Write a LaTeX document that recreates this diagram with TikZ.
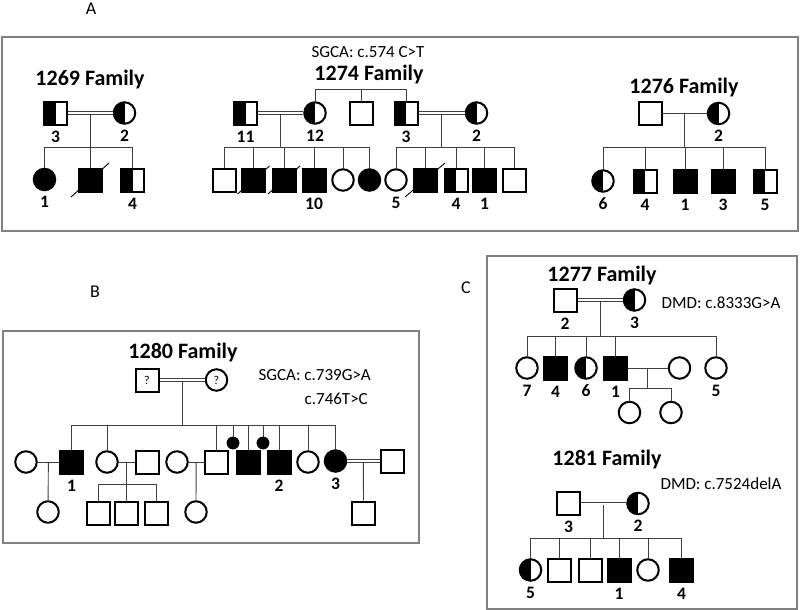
\documentclass[tikz,border=0pt]{standalone}
\usepackage{fontspec}
\setmainfont{Carlito}
\begin{document}
\begin{tikzpicture}[x=1pt, y=-1pt, label distance=5pt]
            \tikzstyle{male}=[draw, rectangle, line width=2pt, minimum size=23pt, inner sep=0pt]
            \tikzstyle{female}=[draw, circle, line width=2pt, minimum size=21.5pt, inner sep=0pt]
            \tikzstyle{affected}=[fill=black]
            \tikzstyle{carrier}=[path picture={\fill[black] (path picture bounding box.south west) rectangle (path picture bounding box.north);}]
            \tikzstyle{every label}=[font=\fontsize{17.5}{17.5}\selectfont\bfseries, inner sep=0pt]
            \tikzstyle{family}=[font=\fontsize{22}{22}\selectfont\bfseries, inner sep=0pt, anchor=base]
            \tikzstyle{mutation}=[font=\fontsize{17}{17}\selectfont, inner sep=0pt, anchor=base]
            \tikzstyle{letter}=[font=\fontsize{18}{18}\selectfont, inner sep=0pt, anchor=base]
            \tikzstyle{link}=[draw=black!75, line width=0.9pt]
            \tikzstyle{marriage}=[link, double, double distance=2pt]
            \tikzstyle{panel}=[draw=black!50, line width=1.3pt]
            \tikzstyle{dead}=[black, line width=0.9pt]
            \useasboundingbox (0,0) rectangle (800,610);
            % panels
            \draw[panel] (2,37) rectangle (798,231);
            \draw[panel] (3,331) rectangle (419,543);
            \draw[panel] (487,256) rectangle (797,609);
            \node[letter] (lA) at (91,15) {A};
            \node[letter] (lB) at (95,297) {B};
            \node[letter] (lC) at (466,293) {C};
            % 1269
            \node[family] (t69) at (90,85) {1269 Family};
            \node[male, carrier, label=below:3] (f69) at (55.5,113) {};
            \node[female, carrier, label=below:2] (m69) at (124.5,113) {};
            \node[female, affected, label=below:1] (a69) at (44.5,179.5) {};
            \node[male, affected] (b69) at (90,180) {};
            \node[male, carrier, label=below:4] (d69) at (132.5,180) {};
            \path (f69) -- coordinate (c69) (m69);
            \draw[link] (c69) -- ++(0,34) coordinate (s69);
            \draw[marriage] (f69) -- (m69);
            \draw[link] (a69 |- s69) -- (d69 |- s69);
            \foreach \k in {a69,b69,d69} \draw[link] (\k |- s69) -- (\k);
            \draw[dead] (b69.center) +(-19,17) -- +(19,-17);
            % 1274
            \node[mutation] (mut74) at (368,58) {SGCA: c.574 C>T};
            \node[family] (t74) at (369,80) {1274 Family};
            \node[male, carrier, label=below:11] (f74a) at (245.5,113) {};
            \node[female, carrier, label=below:12] (m74a) at (315,113) {};
            \node[male] (u74) at (361,113) {};
            \node[male, carrier, label=below:3] (f74b) at (406,113) {};
            \node[female, carrier, label=below:2] (m74b) at (476.5,113) {};
            \draw[link] (m74a) -- ++(0,-24) coordinate (s74) -- (f74b |- s74) -- (f74b);
            \draw[link] (u74 |- s74) -- (u74);
            \node[male] (k74a) at (224,180) {};
            \node[male, affected] (k74b) at (253.5,180) {};
            \node[male, affected] (k74c) at (284,180) {};
            \node[male, affected, label=below:10] (k74d) at (314,180) {};
            \node[female] (k74e) at (343,180) {};
            \node[female, affected] (k74f) at (369.5,180) {};
            \node[female, label=below:5] (k74g) at (396,180) {};
            \node[male, affected] (k74h) at (425,180) {};
            \node[male, carrier, label=below:4] (k74i) at (456,180) {};
            \node[male, affected, label=below:1] (k74j) at (484.5,180) {};
            \node[male] (k74k) at (514,180) {};
            \path (f74a) -- coordinate (c74a) (m74a);
            \path (f74b) -- coordinate (c74b) (m74b);
            \draw[link] (c74a) -- ++(0,34) coordinate (s74a);
            \draw[link] (c74b) -- ++(0,34) coordinate (s74b);
            \draw[marriage] (f74a) -- (m74a);
            \draw[marriage] (f74b) -- (m74b);
            \draw[link] (k74a |- s74a) -- (k74f |- s74a);
            \draw[link] (k74g |- s74b) -- (k74k |- s74b);
            \foreach \k in {k74a,k74b,k74c,k74d,k74e,k74f} \draw[link] (\k |- s74a) -- (\k);
            \foreach \k in {k74g,k74h,k74i,k74j,k74k} \draw[link] (\k |- s74b) -- (\k);
            \draw[dead] (k74b.center) +(-16,14) -- +(16,-14);
            \draw[dead] (k74c.center) +(-16,14) -- +(16,-14);
            \draw[dead] (k74h.center) +(-20,17) -- +(20,-17);
            % 1276
            \node[family] (t76) at (684,93) {1276 Family};
            \node[male] (f76) at (650,113.5) {};
            \node[female, carrier, label=below:2] (m76) at (718.5,113.5) {};
            \node[female, carrier, label=below:6] (k76a) at (603,181) {};
            \node[male, carrier, label=below:4] (k76b) at (645,181) {};
            \node[male, affected, label=below:1] (k76c) at (685,181) {};
            \node[male, affected, label=below:3] (k76d) at (723,181) {};
            \node[male, carrier, label=below:5] (k76e) at (765,181) {};
            \draw[link] (f76) -- coordinate (c76) (m76);
            \draw[link] (c76) -- ++(0,33.5) coordinate (s76);
            \draw[link] (k76a |- s76) -- (k76e |- s76);
            \foreach \k in {k76a,k76b,k76c,k76d,k76e} \draw[link] (\k |- s76) -- (\k);
            % 1280
            \node[family] (t80) at (183,358) {1280 Family};
            \node[mutation, anchor=base east] (mut80a) at (371,380) {SGCA: c.739G>A};
            \node[mutation, anchor=base east] (mut80b) at (368,404) {c.746T>C};
            \node[male, font=\fontsize{12}{12}\selectfont] (f80) at (147,380) {?};
            \node[female, font=\fontsize{12}{12}\selectfont] (m80) at (216.5,380) {?};
            \node[female] (w80a) at (26,462) {};
            \node[male, affected, label=below:1] (k80a) at (71.5,462) {};
            \node[female] (k80b) at (107,462) {};
            \node[male] (h80b) at (147,462) {};
            \node[female] (w80c) at (177,462) {};
            \node[male] (k80c) at (216,462) {};
            \node[female, affected, minimum size=12pt, line width=0.8pt] (x80a) at (233,443) {};
            \node[male, affected] (k80d) at (248,462) {};
            \node[female, affected, minimum size=12pt, line width=0.8pt] (x80b) at (263,443) {};
            \node[male, affected, label=below:2] (k80e) at (279,462) {};
            \node[female] (k80f) at (308,462) {};
            \node[female, affected, label=below:3] (k80g) at (335.5,461) {};
            \node[male] (h80g) at (392,461) {};
            \node[female] (n80a) at (48,512) {};
            \node[male] (n80b) at (98,513) {};
            \node[male] (n80c) at (126,513) {};
            \node[male] (n80d) at (156,513) {};
            \node[female] (n80e) at (196,512) {};
            \node[male] (n80f) at (363.5,513) {};
            \path (f80) -- coordinate (c80) (m80);
            \draw[link] (c80) -- ++(0,45) coordinate (s80);
            \draw[marriage] (f80) -- (m80);
            \draw[link] (k80a |- s80) -- (k80g |- s80);
            \foreach \k in {k80a,k80b,k80c,x80a,k80d,x80b,k80e,k80f,k80g} \draw[link] (\k |- s80) -- (\k);
            \draw[link] (w80a) -- coordinate (c80a) (k80a);
            \draw[link] (c80a) -- (n80a);
            \draw[link] (k80b) -- coordinate (c80b) (h80b);
            \draw[link] (c80b) -- ++(0,22) coordinate (s80b);
            \draw[link] (n80b |- s80b) -- (n80d |- s80b);
            \foreach \k in {n80b,n80c,n80d} \draw[link] (\k |- s80b) -- (\k);
            \draw[link] (w80c) -- coordinate (c80c) (k80c);
            \draw[link] (c80c) -- (n80e);
            \path (k80g) -- coordinate (c80g) (h80g);
            \draw[link] (c80g) -- (n80f);
            \draw[marriage] (k80g) -- (h80g);
            % 1277
            \node[family] (t77) at (602,281) {1277 Family};
            \node[mutation] (mut77) at (721,308) {DMD: c.8333G>A};
            \node[male, label=below:2] (f77) at (565,300) {};
            \node[female, carrier, label=below:3] (m77) at (634.5,300) {};
            \node[female, label=below:7] (k77a) at (527,368) {};
            \node[male, affected, label=below:4] (k77b) at (555.5,368) {};
            \node[female, carrier, label=below:6] (k77c) at (586,368) {};
            \node[male, affected, label=below:1] (k77d) at (615.5,368) {};
            \node[female] (w77d) at (679.5,368) {};
            \node[female, label=below:5] (k77e) at (716,368) {};
            \node[female] (n77a) at (629.5,412.5) {};
            \node[female] (n77b) at (671,412.5) {};
            \path (f77) -- coordinate (c77) (m77);
            \draw[link] (c77) -- ++(0,36) coordinate (s77);
            \draw[marriage] (f77) -- (m77);
            \draw[link] (k77a |- s77) -- (k77e |- s77);
            \foreach \k in {k77a,k77b,k77c,k77d,k77e} \draw[link] (\k |- s77) -- (\k);
            \draw[link] (k77d) -- coordinate (c77d) (w77d);
            \draw[link] (c77d) -- ++(0,20) coordinate (s77d);
            \draw[link] (n77a |- s77d) -- (n77b |- s77d);
            \foreach \k in {n77a,n77b} \draw[link] (\k |- s77d) -- (\k);
            % 1281
            \node[family] (t81) at (607,465) {1281 Family};
            \node[mutation] (mut81) at (721,489) {DMD: c.7524delA};
            \node[male, label=below:3] (f81) at (568.5,503.5) {};
            \node[female, carrier, label=below:2] (m81) at (638,503.5) {};
            \node[female, carrier, label=below:5] (k81a) at (530.5,570) {};
            \node[male] (k81b) at (559,570) {};
            \node[male] (k81c) at (590,570) {};
            \node[male, affected, label=below:1] (k81d) at (619,570) {};
            \node[female] (k81e) at (648,570) {};
            \node[male, affected, label=below:4] (k81f) at (681.5,570) {};
            \path (f81) -- coordinate (c81) (m81);
            \draw[link] (c81) -- ++(0,34.5) coordinate (s81);
            \draw[marriage] (f81) -- (m81);
            \draw[link] (k81a |- s81) -- (k81f |- s81);
            \foreach \k in {k81a,k81b,k81c,k81d,k81e,k81f} \draw[link] (\k |- s81) -- (\k);
\end{tikzpicture}
\end{document}
